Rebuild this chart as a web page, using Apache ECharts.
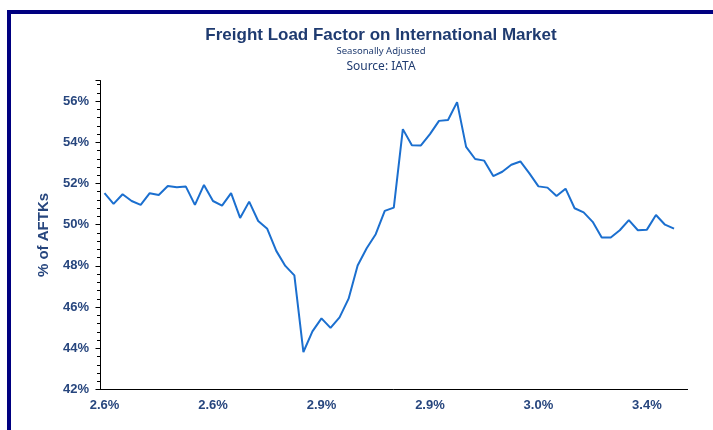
<!DOCTYPE html>
<html>
<head>
<meta charset="utf-8">
<script src="https://cdn.jsdelivr.net/npm/echarts@6/dist/echarts.min.js"></script>
<style>
  html, body { margin: 0; padding: 0; background: #fff; }
  #chart { width: 713px; height: 430px; }
</style>
</head>
<body>
<div id="chart"></div>
<script>
// 国际市场货运载运率（季节调整后）
const loadFactor = [
  51.53, 51.01, 51.48, 51.15, 50.96, 51.53, 51.44, 51.88, 51.82, 51.85, 50.96, 51.93,
  51.15, 50.93, 51.53, 50.33, 51.12, 50.18, 49.80, 48.73, 48.00, 47.54, 43.82, 44.82,
  45.45, 44.99, 45.50, 46.41, 48.02, 48.86, 49.54, 50.67, 50.83, 54.64, 53.86, 53.85,
  54.40, 55.04, 55.08, 55.95, 53.78, 53.19, 53.11, 52.36, 52.57, 52.91, 53.07, 52.49,
  51.86, 51.80, 51.39, 51.75, 50.80, 50.60, 50.14, 49.38, 49.38, 49.73, 50.22, 49.73,
  49.76, 50.47, 50.00, 49.81
]
// x轴标签（每12个点一个）
const xTickLabels = ['2.6%', '2.6%', '2.9%', '2.9%', '3.0%', '3.4%']
const categoryCount = 65
const categories = Array.from({ length: categoryCount }, (v, i) => String(i))

const labelColor = '#27467e'
const chart = echarts.init(document.getElementById('chart'), null, { renderer: 'canvas' })

const option = {
  animation: false,
  graphic: [
    { type: 'rect', shape: { x: 7, y: 10, width: 706, height: 4 }, style: { fill: '#000080' } },
    { type: 'rect', shape: { x: 7, y: 10, width: 4, height: 420 }, style: { fill: '#000080' } },
    {
      type: 'text', x: 381, y: 35,
      style: {
        text: 'Freight Load Factor on International Market',
        align: 'center', verticalAlign: 'middle',
        font: 'bold 17px "Liberation Sans", Arial, sans-serif',
        fill: '#1f3b70'
      }
    },
    {
      type: 'text', x: 381, y: 51,
      style: {
        text: 'Seasonally Adjusted',
        align: 'center', verticalAlign: 'middle',
        font: '9.5px "Noto Sans", sans-serif',
        fill: '#1f3b70'
      }
    },
    {
      type: 'text', x: 381, y: 67,
      style: {
        text: 'Source: IATA',
        align: 'center', verticalAlign: 'middle',
        font: '12px "Noto Sans", sans-serif',
        fill: '#1f3b70'
      }
    }
  ],
  grid: {
    left: 100,
    right: 25.4,
    top: 80.5,
    bottom: 40.5,
    containLabel: false
  },
  xAxis: {
    type: 'category',
    data: categories,
    boundaryGap: true,
    axisLine: { lineStyle: { color: '#000', width: 1 } },
    axisTick: {
      alignWithLabel: true,
      interval: 0,
      inside: true,
      length: 3,
      lineStyle: { color: '#000' }
    },
    axisLabel: {
      interval: 11,
      margin: 9,
      color: labelColor,
      fontWeight: 'bold',
      fontSize: 13,
      fontFamily: 'Liberation Sans, Arial, sans-serif',
      formatter: (v, i) => (i % 12 === 0 ? xTickLabels[i / 12] || '' : '')
    },
    splitLine: { show: false }
  },
  yAxis: {
    type: 'value',
    min: 42,
    max: 57,
    interval: 2,
    name: '% of AFTKs',
    nameLocation: 'middle',
    nameGap: 49,
    nameTextStyle: {
      color: labelColor,
      fontWeight: 'bold',
      fontSize: 15,
      fontFamily: 'Liberation Sans, Arial, sans-serif'
    },
    axisLine: { show: true, lineStyle: { color: '#000', width: 1 } },
    axisTick: { show: true, length: 4.5, lineStyle: { color: '#000' } },
    minorTick: { show: true, splitNumber: 5, length: 3, lineStyle: { color: '#000' } },
    axisLabel: {
      margin: 11,
      color: labelColor,
      fontWeight: 'bold',
      fontSize: 13,
      fontFamily: 'Liberation Sans, Arial, sans-serif',
      showMaxLabel: false,
      formatter: (v) => (v % 2 === 0 ? v + '%' : '')
    },
    splitLine: { show: false }
  },
  series: [
    {
      name: 'Freight Load Factor',
      type: 'line',
      data: loadFactor,
      symbol: 'none',
      lineStyle: { color: '#1b6fcf', width: 2 },
      itemStyle: { color: '#1b6fcf' }
    }
  ]
}

chart.setOption(option)
</script>
</body>
</html>
